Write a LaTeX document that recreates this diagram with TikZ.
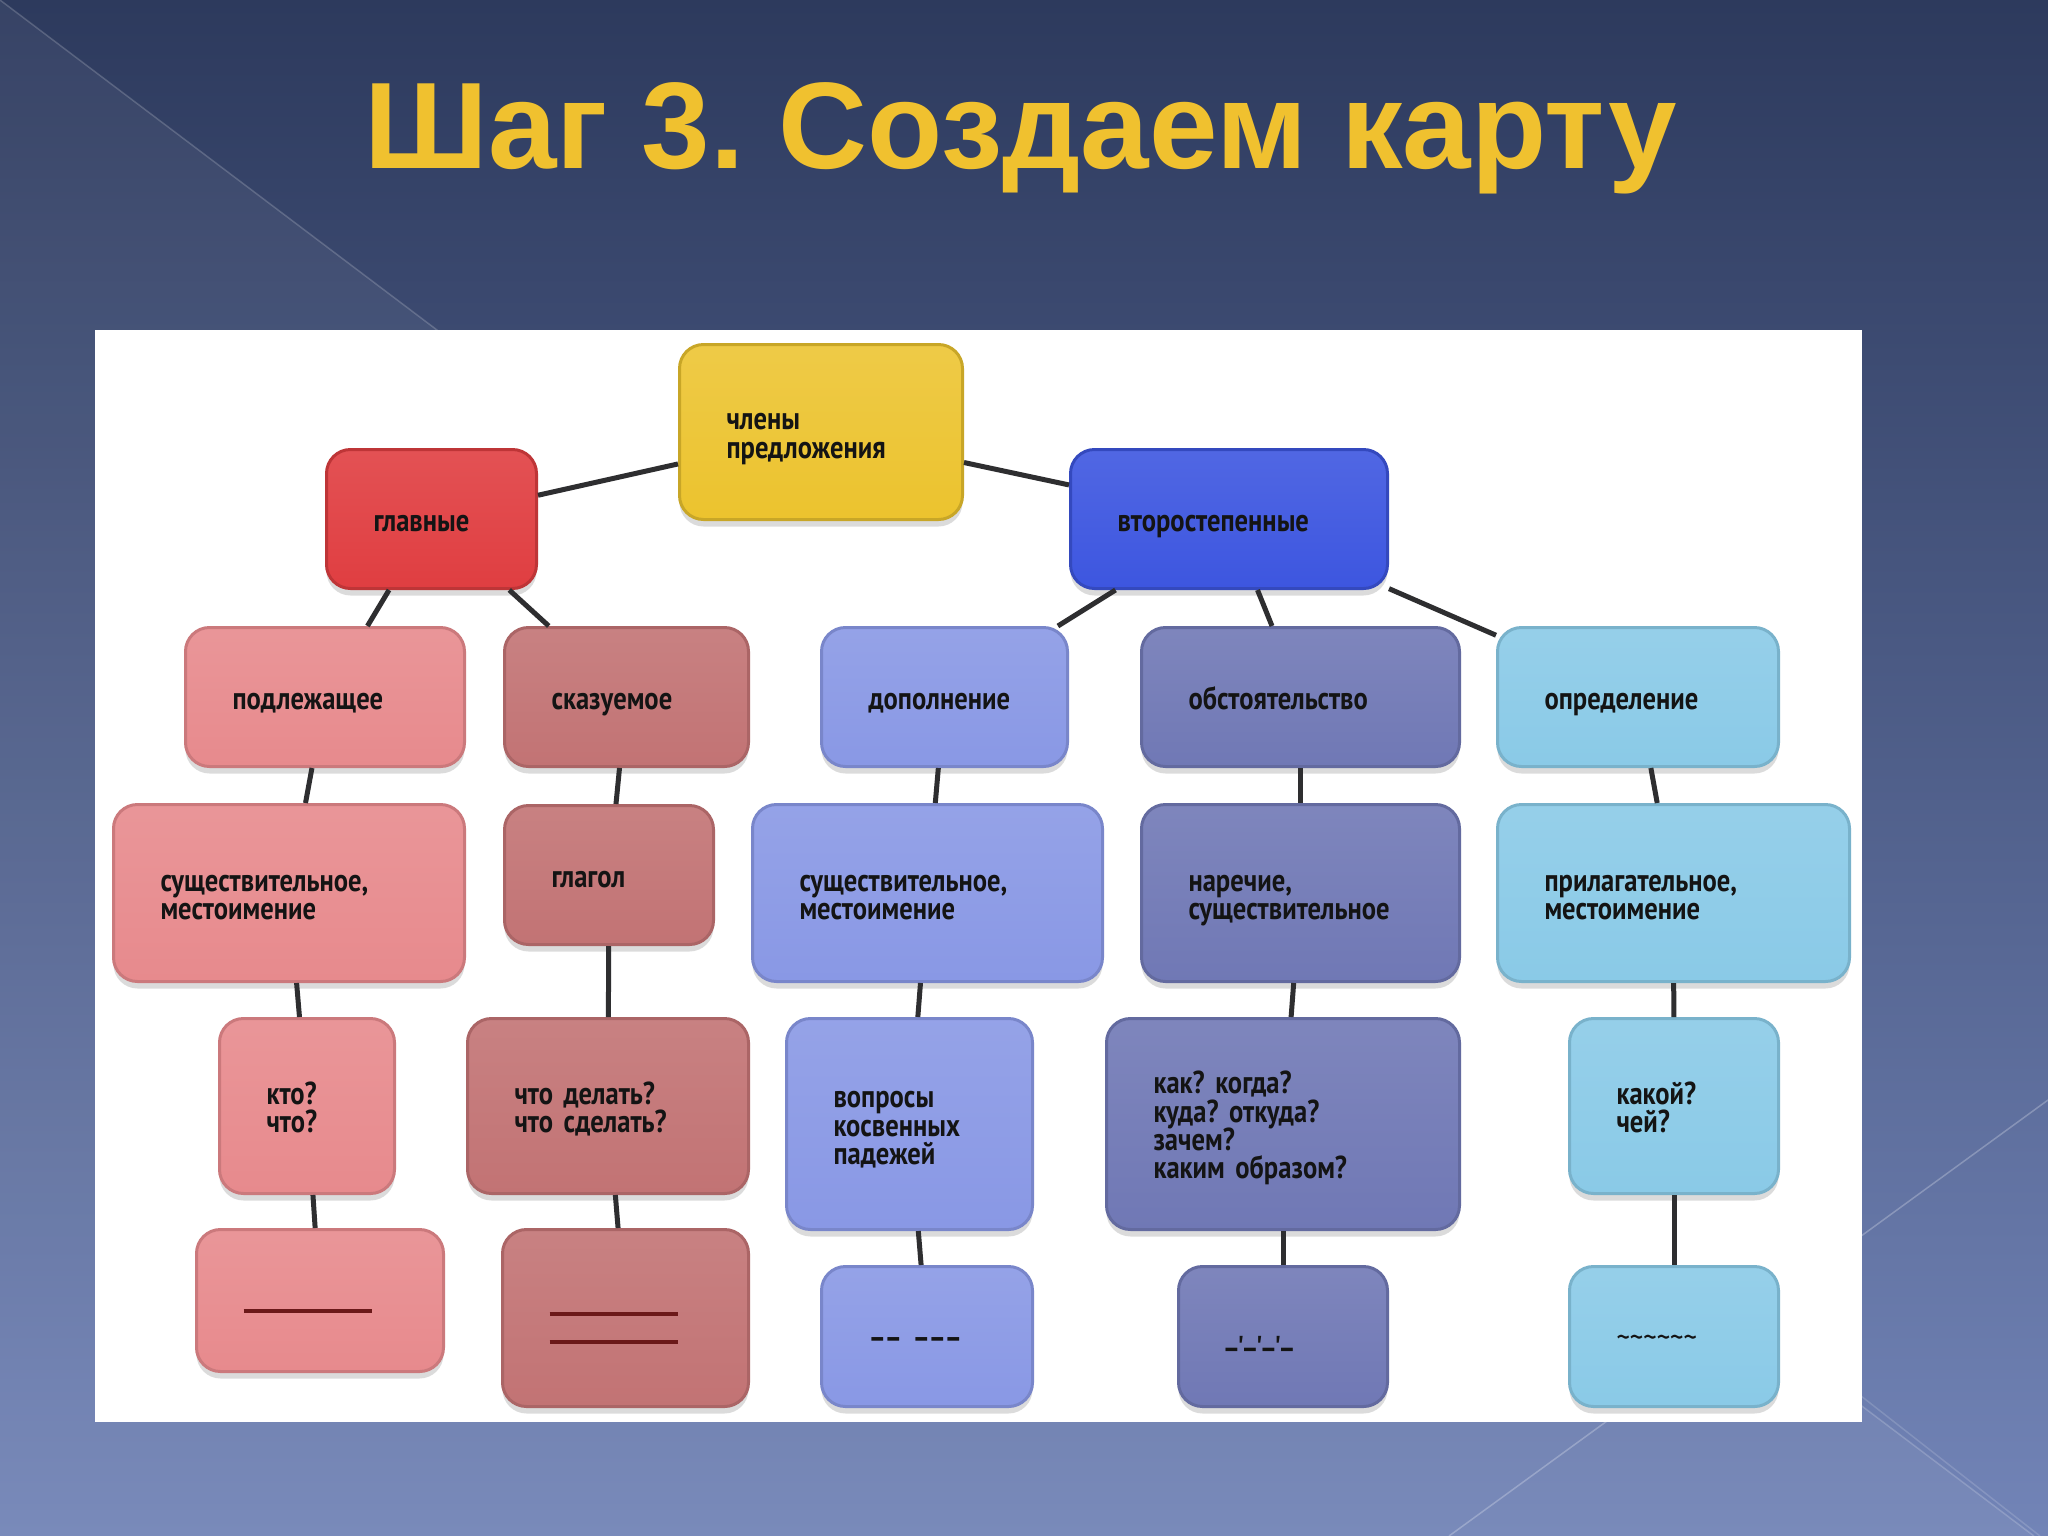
\documentclass[tikz,border=0pt]{standalone}
\usepackage{fontspec}
\setmainfont{PT Sans}
\newfontfamily\titlefont{Liberation Sans}
\newfontfamily\mapfont[FakeStretch=0.84]{PT Sans}
\usetikzlibrary{shadows}
\frenchspacing

\newlength{\du}
\setlength{\du}{0.01cm}

\definecolor{bgtop}{rgb}{0.176, 0.227, 0.365}
\definecolor{bgbottom}{rgb}{0.447, 0.518, 0.718}
\definecolor{titleyellow}{rgb}{0.941, 0.757, 0.184}
\definecolor{linkgray}{rgb}{0.180, 0.180, 0.190}
\definecolor{rulered}{rgb}{0.420, 0.100, 0.100}
\definecolor{boxyellow}{rgb}{0.925, 0.765, 0.180}
\definecolor{boxred}{rgb}{0.878, 0.243, 0.255}
\definecolor{boxpink}{rgb}{0.906, 0.541, 0.553}
\definecolor{boxrose}{rgb}{0.761, 0.451, 0.455}
\definecolor{boxblue}{rgb}{0.239, 0.337, 0.878}
\definecolor{boxperi}{rgb}{0.537, 0.596, 0.898}
\definecolor{boxslate}{rgb}{0.439, 0.471, 0.710}
\definecolor{boxsky}{rgb}{0.541, 0.792, 0.906}

\tikzset{
  mapbox/.style={anchor=north west, rectangle, rounded corners=24\du,
    line width=3\du, inner xsep=47\du, inner ysep=0pt, align=left,
    text=black!92,
    font=\mapfont\bfseries\fontsize{9}{8}\selectfont,
    execute at begin node={\lineskiplimit=-6pt\relax\rule{0pt}{8.7pt}},
    execute at end node={\vphantom{Бу}},
    drop shadow={shadow xshift=0pt, shadow yshift=-7\du, opacity=.28}},
  yellowbox/.style={mapbox, draw=boxyellow!85!black, top color=boxyellow!88!white, bottom color=boxyellow},
  redbox/.style={mapbox, draw=boxred!85!black, top color=boxred!90!white, bottom color=boxred},
  pinkbox/.style={mapbox, draw=boxpink!88!black, top color=boxpink!90!white, bottom color=boxpink},
  rosebox/.style={mapbox, draw=boxrose!88!black, top color=boxrose!90!white, bottom color=boxrose},
  bluebox/.style={mapbox, draw=boxblue!85!black, top color=boxblue!90!white, bottom color=boxblue},
  peribox/.style={mapbox, draw=boxperi!88!black, top color=boxperi!90!white, bottom color=boxperi},
  slatebox/.style={mapbox, draw=boxslate!88!black, top color=boxslate!90!white, bottom color=boxslate},
  skybox/.style={mapbox, draw=boxsky!88!black, top color=boxsky!90!white, bottom color=boxsky},
  link/.style={draw=linkgray, line width=5\du},
  titletext/.style={anchor=base west, text=titleyellow, font=\titlefont\bfseries\fontsize{35}{40}\selectfont}
}

\begin{document}
\begin{tikzpicture}
\pgftransformyscale{-1.000000}
\useasboundingbox (0\du,0\du) rectangle (2048\du,1536\du);
% slide background
\shade[top color=bgtop, bottom color=bgbottom] (0\du,0\du) rectangle (2048\du,1536\du);
\fill[white, opacity=.05] (0\du,0\du)--(2034\du,1536\du)--(0\du,1536\du)--cycle;
\draw[white, opacity=.18, line width=1.5\du] (0\du,0\du)--(2034\du,1536\du);
\draw[white, opacity=.25, line width=1.5\du] (1449\du,1536\du)--(2048\du,1100\du);
\draw[white, opacity=.15, line width=1.5\du] (1700\du,1270\du)--(2040\du,1536\du);
\node[titletext] (title) at (352\du,168\du) {Шаг 3. Создаем карту};
% white panel
\fill[white] (95\du,330\du) rectangle (1862\du,1422\du);
% first levels
\node[yellowbox, minimum height=175\du, text width=189\du] (chleny) at (678\du,343\du) {члены\\предложения};
\node[redbox, minimum height=139\du, text width=116\du] (glav) at (325\du,448\du) {главные};
\node[bluebox, minimum height=139\du, text width=223\du] (vtor) at (1069\du,448\du) {второстепенные};
\node[pinkbox, minimum height=139\du, text width=185\du] (podl) at (184\du,626\du) {подлежащее};
\node[rosebox, minimum height=139\du, text width=150\du] (skaz) at (503\du,626\du) {сказуемое};
\node[peribox, minimum height=139\du, text width=152\du] (dop) at (820\du,626\du) {дополнение};
\node[slatebox, minimum height=139\du, text width=224\du] (obst) at (1140\du,626\du) {обстоятельство};
\node[skybox, minimum height=139\du, text width=187\du] (opr) at (1496\du,626\du) {определение};
% parts of speech
\node[pinkbox, minimum height=177\du, text width=257\du] (sushA) at (112\du,803\du) {существительное,\\местоимение};
\node[rosebox, minimum height=139\du, text width=115\du] (glagol) at (503\du,804\du) {глагол};
\node[peribox, minimum height=177\du, text width=256\du] (sushB) at (751\du,803\du) {существительное,\\местоимение};
\node[slatebox, minimum height=177\du, text width=224\du] (narech) at (1140\du,803\du) {наречие,\\существительное};
\node[skybox, minimum height=177\du, text width=258\du] (pril) at (1496\du,803\du) {прилагательное,\\местоимение};
% questions
\node[pinkbox, minimum height=175\du, text width=81\du] (kto) at (218\du,1017\du) {кто?\\что?};
\node[rosebox, minimum height=175\du, text width=187\du] (chto) at (466\du,1017\du) {что делать?\\что сделать?};
\node[peribox, minimum height=211\du, text width=152\du] (vopr) at (785\du,1017\du) {вопросы\\косвенных\\падежей};
\node[slatebox, minimum height=211\du, text width=259\du] (kak) at (1105\du,1017\du) {как? когда?\\куда? откуда?\\зачем?\\каким образом?};
\node[skybox, minimum height=175\du, text width=115\du] (kakoy) at (1568\du,1017\du) {какой?\\чей?};
% underlining marks
\node[pinkbox, minimum height=142\du, text width=153\du] (lineA) at (195\du,1228\du) {\textcolor{rulered}{\rule{128\du}{4\du}}};
\node[rosebox, minimum height=177\du, text width=152\du] (lineB) at (501\du,1228\du) {\textcolor{rulered}{\rule{128\du}{4\du}}\\\textcolor{rulered}{\rule{128\du}{4\du}}};
\node[peribox, minimum height=140\du, text width=117\du] (lineC) at (820\du,1265\du) {–– –––};
\node[slatebox, minimum height=140\du, text width=115\du] (lineD) at (1177\du,1265\du) {\_\raisebox{-0.9ex}{'}\_\raisebox{-0.9ex}{'}\_\raisebox{-0.9ex}{'}\_};
\node[skybox, minimum height=140\du, text width=115\du] (lineE) at (1568\du,1265\du) {\mdseries\textasciitilde\textasciitilde\textasciitilde\textasciitilde\textasciitilde\textasciitilde};
% connectors
\draw[link] (chleny)--(glav);
\draw[link] (chleny)--(vtor);
\draw[link] (glav)--(podl);
\draw[link] (glav)--(skaz);
\draw[link] (vtor)--(dop);
\draw[link] (vtor)--(obst);
\draw[link] (vtor)--(opr);
\draw[link] (podl)--(sushA);
\draw[link] (skaz)--(glagol);
\draw[link] (dop)--(sushB);
\draw[link] (obst)--(narech);
\draw[link] (opr)--(pril);
\draw[link] (sushA)--(kto);
\draw[link] (glagol)--(chto);
\draw[link] (sushB)--(vopr);
\draw[link] (narech)--(kak);
\draw[link] (pril)--(kakoy);
\draw[link] (kto)--(lineA);
\draw[link] (chto)--(lineB);
\draw[link] (vopr)--(lineC);
\draw[link] (kak)--(lineD);
\draw[link] (kakoy)--(lineE);
\end{tikzpicture}
\end{document}
